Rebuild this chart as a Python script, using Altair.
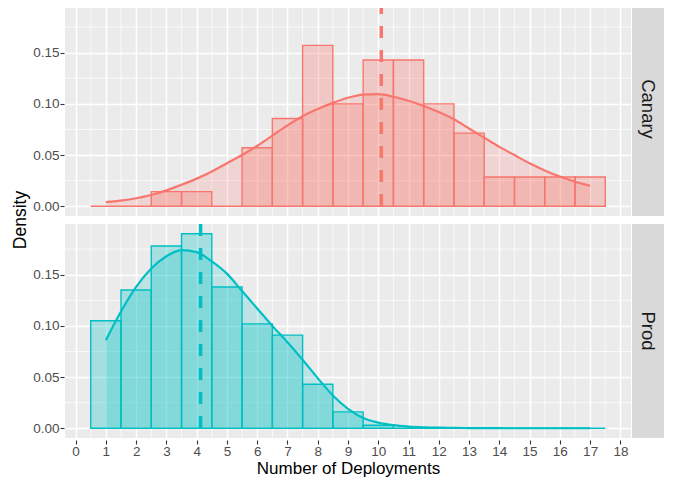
import altair as alt
import pandas as pd

groups = ["Canary", "Prod"]
colors = ["#F8766D", "#00BFC4"]

bin_centers = list(range(1, 18))
canary_hist = [0, 0, 0.0143, 0.0143, 0, 0.0571, 0.0857, 0.1571, 0.1, 0.1429,
               0.1429, 0.1, 0.0714, 0.0286, 0.0286, 0.0286, 0.0286]
prod_hist = [0.105, 0.135, 0.178, 0.19, 0.138, 0.102, 0.091, 0.043, 0.016,
             0.003, 0, 0, 0, 0, 0, 0, 0]

curve_x = [1, 1.5, 2, 2.5, 3, 3.5, 4, 4.5, 5, 5.5, 6, 6.5, 7, 7.5, 8, 8.5, 9,
           9.5, 10, 10.5, 11, 11.5, 12, 12.5, 13, 13.5, 14, 14.5, 15, 15.5, 16,
           16.5, 17]
canary_curve = [0.004, 0.0055, 0.0078, 0.011, 0.0155, 0.021, 0.027, 0.034,
                0.042, 0.050, 0.059, 0.069, 0.079, 0.088, 0.095, 0.101, 0.106,
                0.109, 0.1095, 0.107, 0.103, 0.098, 0.092, 0.085, 0.076, 0.067,
                0.058, 0.050, 0.042, 0.035, 0.029, 0.024, 0.020]
prod_curve = [0.086, 0.114, 0.138, 0.156, 0.168, 0.174, 0.172, 0.163, 0.151,
              0.134, 0.117, 0.100, 0.084, 0.067, 0.049, 0.032, 0.019, 0.010,
              0.0055, 0.003, 0.0017, 0.001, 0.0006, 0.0004, 0.0002, 0.0001,
              0.0001, 0, 0, 0, 0, 0, 0]

means = [10.1, 4.13]

x_ticks = list(range(0, 19))
y_ticks = [0, 0.05, 0.10, 0.15]
x_minor = [k + 0.5 for k in range(0, 18)]
y_minor = [0.025, 0.075, 0.125, 0.175]

rows = []
hists = {"Canary": canary_hist, "Prod": prod_hist}
curves = {"Canary": canary_curve, "Prod": prod_curve}
for g, m in zip(groups, means):
    for c, d in zip(bin_centers, hists[g]):
        rows.append(dict(kind="hist", group=g, x=c - 0.5, x2=c + 0.5, y=d, y2=0))
    for cx, cy in zip(curve_x, curves[g]):
        rows.append(dict(kind="curve", group=g, x=cx, y=cy))
    rows.append(dict(kind="mean", group=g, x=m))
    for v in x_minor:
        rows.append(dict(kind="minx", group=g, x=v))
    for v in y_minor:
        rows.append(dict(kind="miny", group=g, y=v))
df = pd.DataFrame(rows)

W, H = 566, 214
FONT = "Liberation Sans"

xscale = alt.Scale(domain=[-0.35, 18.35], nice=False, zero=False)
yscale = alt.Scale(domain=[-0.0095, 0.1995], nice=False, zero=False)
xaxis = alt.Axis(values=x_ticks, grid=True, gridColor="white", gridWidth=1.5,
                 domain=False, tickColor="#333333", tickSize=4, tickWidth=1.1,
                 labelColor="#4D4D4D", labelFontSize=13.5, labelPadding=0,
                 titleFontSize=17, titleColor="black", titleFontWeight="normal",
                 titlePadding=3, labelFont=FONT, titleFont=FONT)
yaxis = alt.Axis(values=y_ticks, format=".2f", grid=True, gridColor="white",
                 gridWidth=1.5, domain=False, tickColor="#333333", tickSize=4,
                 tickWidth=1.1, labelColor="#4D4D4D", labelFontSize=13.5,
                 labelPadding=1, labelFont=FONT)

X = lambda f="x": alt.X(f"{f}:Q", scale=xscale, axis=xaxis, title="Number of Deployments")
Y = lambda f="y": alt.Y(f"{f}:Q", scale=yscale, axis=yaxis, title=None)
col = alt.Color("group:N", scale=alt.Scale(domain=groups, range=colors), legend=None)
fillc = alt.Fill("group:N", scale=alt.Scale(domain=groups, range=colors), legend=None)
strokec = alt.Stroke("group:N", scale=alt.Scale(domain=groups, range=colors), legend=None)

base = alt.Chart()

minx = base.transform_filter("datum.kind == 'minx'").mark_rule(
    color="white", strokeWidth=0.7).encode(x=X())
miny = base.transform_filter("datum.kind == 'miny'").mark_rule(
    color="white", strokeWidth=0.7).encode(y=Y())

area = base.transform_filter("datum.kind == 'curve'").mark_area(
    opacity=0.2, interpolate="monotone").encode(x=X(), y=Y(), y2=alt.datum(0), fill=fillc)

hist = base.transform_filter("datum.kind == 'hist'").mark_rect(
    fillOpacity=0.3, strokeWidth=1.4).encode(
    x=X(), x2="x2:Q", y=Y(), y2="y2:Q", fill=fillc, stroke=strokec)

line = base.transform_filter("datum.kind == 'curve'").mark_line(
    strokeWidth=2.2, interpolate="monotone").encode(x=X(), y=Y(), color=col)

mean = base.transform_filter("datum.kind == 'mean'").mark_rule(
    strokeWidth=3.5, strokeDash=[12, 12]).encode(x=X(), color=col)

strip = base.transform_filter("datum.kind == 'mean'").mark_rect(
    color="#D9D9D9").encode(x=alt.value(W + 1), x2=alt.value(W + 33),
                            y=alt.value(0), y2=alt.value(H))
strip_text = base.transform_filter("datum.kind == 'mean'").mark_text(
    angle=90, fontSize=18.5, color="#1A1A1A", font=FONT, baseline="middle",
    align="center").encode(x=alt.value(W + 17), y=alt.value(H / 2),
                           text="group:N")

layered = alt.layer(minx, miny, area, hist, line, mean, strip, strip_text).properties(
    width=W, height=H)

chart = layered.facet(
    row=alt.Row("group:N", sort=groups,
                header=alt.Header(labels=False, labelPadding=0, title="Density",
                                  titleOrient="left", titleFontSize=17.5,
                                  titleFontWeight="normal", titleColor="black",
                                  titleFont=FONT, titlePadding=-7)),
    data=df,
    spacing=4,
).properties(
    padding={"left": 3, "top": -8, "right": 0, "bottom": 0}
).configure(font=FONT).configure_view(fill="#EBEBEB", stroke=None)

chart.save("out.html", embed_options={"renderer": "svg", "actions": False})
